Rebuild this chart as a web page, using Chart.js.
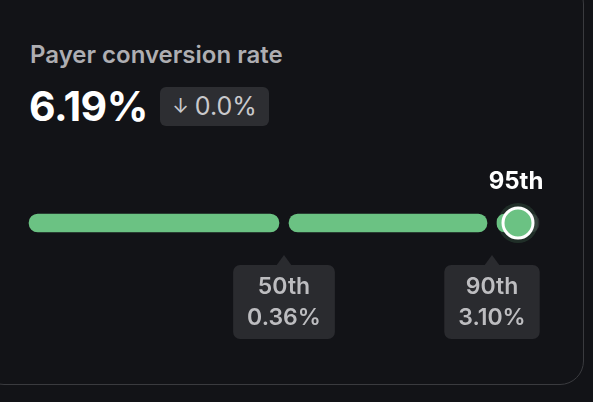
<!DOCTYPE html>
<html>
<head>
<meta charset="utf-8">
<script src="https://cdn.jsdelivr.net/npm/chart.js@4/dist/chart.umd.min.js"></script>
<style>
  html, body { margin: 0; padding: 0; background: #121317; width: 593px; height: 402px; overflow: hidden; font-family: Inter, "Noto Sans", sans-serif; }
  .card { position: absolute; left: -20px; top: -20px; width: 602px; height: 403px; border: 1.5px solid #3a3b3f; border-radius: 24px; background: #121317; }
  #c { position: absolute; left: 0; top: 0; }
  .title { position: absolute; left: 30px; top: 40px; font-size: 24px; font-weight: 600; color: #aeaeb2; white-space: nowrap; }
  .value { position: absolute; left: 29px; top: 81px; font-size: 41px; font-weight: 700; color: #ffffff; letter-spacing: -0.5px; white-space: nowrap; }
  .badge { position: absolute; left: 160px; top: 87px; width: 109px; height: 39px; border-radius: 6px; background: #2d2e32; color: #c9c9cc; font-size: 25px; font-weight: 400; line-height: 39px; text-align: center; white-space: nowrap; }
  .badge .arr { font-size: 20px; margin-right: 6px; position: relative; top: -2px; }
</style>
</head>
<body>
<div class="card"></div>
<div class="title" id="title"></div>
<div class="value" id="value"></div>
<div class="badge" id="badge"></div>
<canvas id="c" width="593" height="402"></canvas>
<script>
const metricName = 'Payer conversion rate';
const currentValue = 6.19;
const change = 0.0;

// percentile band edges along the track
const bandEdges = [0, 50, 90, 95, 100];
// labelled percentiles under the track
const markLabels = ['50th', '90th'];
const markPercentiles = [50, 90];
const markValues = [0.36, 3.10];
// where the current value sits
const currentPercentile = 95;
const currentLabel = '95th';

document.getElementById('title').textContent = metricName;
document.getElementById('value').textContent = currentValue.toFixed(2) + '%';
document.getElementById('badge').innerHTML = '<span class="arr">↓</span>' + change.toFixed(1) + '%';

const green = '#6bc283';
const rowLabel = 'rate';

const bandDatasets = [];
for (let i = 0; i < bandEdges.length - 1; i++) {
  bandDatasets.push({
    type: 'bar',
    data: [[bandEdges[i], bandEdges[i + 1]]],
    backgroundColor: bandEdges[i] < currentPercentile ? green : '#2b2c30',
    borderColor: 'rgba(0,0,0,0)',
    borderWidth: 5,
    borderRadius: 14,
    borderSkipped: false,
    barThickness: 28,
    grouped: false,
    order: 3
  });
}

const annotations = {
  id: 'annotations',
  afterDraw(chart) {
    const ctx = chart.ctx;
    const xs = chart.scales.x;
    const yc = chart.scales.y.getPixelForValue(0);
    ctx.save();
    ctx.textAlign = 'center';
    ctx.textBaseline = 'middle';
    markPercentiles.forEach((p, i) => {
      const x = xs.getPixelForValue(p);
      const line1 = markLabels[i];
      const line2 = markValues[i].toFixed(2) + '%';
      ctx.font = '600 23px Inter, "Noto Sans", sans-serif';
      const w = Math.max(ctx.measureText(line1).width, ctx.measureText(line2).width) + 28;
      const h = 74;
      const top = yc + 42;
      ctx.fillStyle = '#2a2b2f';
      ctx.beginPath();
      ctx.roundRect(x - w / 2, top, w, h, 7);
      ctx.fill();
      ctx.beginPath();
      ctx.moveTo(x - 8, top + 1);
      ctx.lineTo(x, top - 10);
      ctx.lineTo(x + 8, top + 1);
      ctx.closePath();
      ctx.fill();
      ctx.fillStyle = '#bdbdc0';
      ctx.fillText(line1, x, top + 22);
      ctx.fillText(line2, x, top + 53);
    });
    const cx = xs.getPixelForValue(currentPercentile);
    ctx.font = '700 24px Inter, "Noto Sans", sans-serif';
    ctx.fillStyle = '#ffffff';
    ctx.fillText(currentLabel, cx - 2, yc - 41);
    ctx.restore();
  }
};

new Chart(document.getElementById('c'), {
  data: {
    labels: [rowLabel],
    datasets: [
      ...bandDatasets,
      {
        type: 'line',
        data: [{x: currentPercentile, y: rowLabel}],
        showLine: false,
        pointRadius: 20,
        pointBackgroundColor: 'rgba(107,194,131,0.16)',
        pointBorderWidth: 0,
        pointBorderColor: 'rgba(0,0,0,0)',
        clip: false,
        order: 2
      },
      {
        type: 'line',
        data: [{x: currentPercentile, y: rowLabel}],
        showLine: false,
        pointRadius: 15,
        pointBackgroundColor: green,
        pointBorderWidth: 3,
        pointBorderColor: '#ffffff',
        clip: false,
        order: 1
      }
    ]
  },
  options: {
    indexAxis: 'y',
    responsive: false,
    devicePixelRatio: 1,
    animation: false,
    layout: { padding: { left: 24, right: 49, top: 183, bottom: 139 } },
    scales: {
      x: { type: 'linear', min: 0, max: 100, display: false },
      y: { type: 'category', labels: [rowLabel], display: false }
    },
    plugins: { legend: { display: false }, tooltip: { enabled: false } },
    events: []
  },
  plugins: [annotations]
});
</script>
</body>
</html>
